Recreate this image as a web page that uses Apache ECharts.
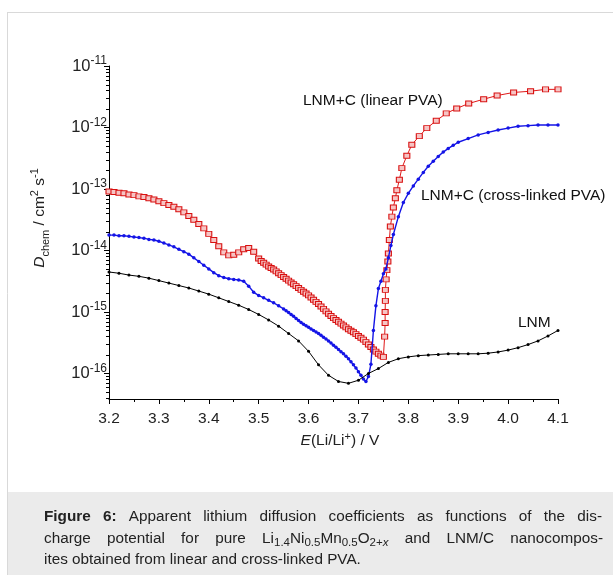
<!DOCTYPE html>
<html><head><meta charset="utf-8">
<script src="https://cdn.jsdelivr.net/npm/echarts@6/dist/echarts.min.js"></script>
<style>html,body{margin:0;padding:0;background:#fff}#c{width:613px;height:575px}</style>
</head><body><div id="c"></div>
<script>
// ---- data (D values stored as log10 of D in cm^2 s^-1) ----
const lnmE = [3.20,3.22,3.24,3.26,3.28,3.30,3.32,3.34,3.36,3.38,3.40,3.42,3.44,3.46,3.48,3.50,3.52,3.54,3.56,3.58,3.60,3.62,3.64,3.66,3.68,3.70,3.72,3.74,3.76,3.78,3.80,3.82,3.84,3.86,3.88,3.90,3.92,3.94,3.96,3.98,4.00,4.02,4.04,4.06,4.08,4.10];
const lnmLogD = [-14.35,-14.37,-14.40,-14.42,-14.45,-14.49,-14.53,-14.57,-14.61,-14.66,-14.71,-14.77,-14.83,-14.89,-14.96,-15.04,-15.13,-15.23,-15.35,-15.47,-15.64,-15.86,-16.03,-16.13,-16.16,-16.11,-16.00,-15.92,-15.82,-15.76,-15.73,-15.71,-15.70,-15.69,-15.68,-15.68,-15.68,-15.68,-15.67,-15.65,-15.62,-15.58,-15.53,-15.47,-15.39,-15.30];

const crossE = [3.20,3.21,3.22,3.23,3.24,3.25,3.26,3.27,3.28,3.29,3.30,3.31,3.32,3.33,3.34,3.35,3.36,3.37,3.38,3.39,3.40,3.41,3.42,3.43,3.44,3.45,3.46,3.47,3.48,3.49,3.50,3.51,3.52,3.53,3.54,
  3.550,3.555,3.560,3.565,3.570,3.575,3.580,3.585,3.590,3.595,3.600,3.605,3.610,3.615,3.620,3.625,3.630,3.635,3.640,3.645,3.650,3.655,3.660,3.665,3.670,3.675,3.680,3.685,3.690,3.695,3.700,3.705,3.710,
  3.715,3.72,3.725,3.73,3.735,3.74,3.745,3.75,3.755,3.76,3.765,3.77,3.78,3.79,3.80,3.81,3.82,3.83,3.84,3.85,3.86,3.87,3.88,3.89,3.90,3.92,3.94,3.96,3.98,4.00,4.02,4.04,4.06,4.08,4.10];
const crossLogD = [-13.75,-13.75,-13.76,-13.76,-13.77,-13.78,-13.79,-13.80,-13.82,-13.83,-13.85,-13.88,-13.91,-13.94,-13.98,-14.02,-14.06,-14.12,-14.18,-14.24,-14.30,-14.36,-14.41,-14.44,-14.46,-14.47,-14.48,-14.50,-14.58,-14.68,-14.73,-14.77,-14.81,-14.85,-14.90,
  -14.95,-14.98,-15.01,-15.04,-15.07,-15.105,-15.14,-15.17,-15.20,-15.225,-15.25,-15.275,-15.30,-15.325,-15.35,-15.38,-15.41,-15.44,-15.47,-15.505,-15.54,-15.575,-15.61,-15.645,-15.68,-15.72,-15.76,-15.81,-15.86,-15.91,-15.97,-16.03,-16.09,
  -16.13,-16.05,-15.85,-15.30,-14.90,-14.62,-14.50,-14.38,-14.30,-14.12,-13.92,-13.74,-13.45,-13.22,-13.07,-12.95,-12.84,-12.73,-12.63,-12.55,-12.47,-12.40,-12.34,-12.29,-12.24,-12.18,-12.12,-12.08,-12.04,-12.01,-11.98,-11.97,-11.96,-11.96,-11.96];

const linearE = [3.20,3.21,3.22,3.23,3.24,3.25,3.26,3.27,3.28,3.29,3.30,3.31,3.32,3.33,3.34,3.35,3.36,3.37,3.38,3.39,3.40,3.41,3.42,3.43,3.44,3.45,3.46,3.47,3.48,3.49,
  3.500,3.505,3.510,3.515,3.520,3.525,3.530,3.535,3.540,3.545,3.550,3.555,3.560,3.565,3.570,3.575,3.580,3.585,3.590,3.595,3.600,3.605,3.610,3.615,3.620,3.625,3.630,3.635,3.640,3.645,3.650,3.655,3.660,3.665,3.670,3.675,3.680,3.685,3.690,3.695,3.700,3.705,3.710,3.715,3.720,3.725,3.730,3.735,3.740,3.745,3.750,
  3.7525,3.7535,3.7535,3.754,3.754,3.7555,3.757,3.759,3.760,3.762,3.764,3.767,3.770,3.774,3.777,3.782,3.787,3.797,3.807,3.822,3.837,3.856,3.876,3.897,3.921,3.951,3.978,4.011,4.045,4.075,4.10];
const linearLogD = [-13.04,-13.05,-13.06,-13.07,-13.09,-13.10,-13.12,-13.13,-13.15,-13.17,-13.20,-13.23,-13.26,-13.29,-13.33,-13.38,-13.44,-13.50,-13.57,-13.64,-13.73,-13.83,-13.93,-14.03,-14.08,-14.07,-14.03,-13.98,-13.96,-14.02,
  -14.13,-14.17,-14.20,-14.23,-14.26,-14.285,-14.31,-14.34,-14.37,-14.40,-14.43,-14.46,-14.49,-14.52,-14.55,-14.58,-14.61,-14.64,-14.67,-14.70,-14.73,-14.765,-14.80,-14.835,-14.87,-14.91,-14.95,-14.99,-15.03,-15.065,-15.10,-15.13,-15.16,-15.19,-15.22,-15.25,-15.28,-15.305,-15.33,-15.36,-15.39,-15.42,-15.45,-15.49,-15.53,-15.57,-15.61,-15.645,-15.68,-15.71,-15.73,
  -15.40,-15.18,-15.00,-14.82,-14.64,-14.47,-14.32,-14.18,-14.05,-13.83,-13.61,-13.45,-13.30,-13.15,-13.02,-12.85,-12.66,-12.46,-12.28,-12.14,-12.01,-11.89,-11.77,-11.69,-11.61,-11.54,-11.48,-11.43,-11.41,-11.38,-11.38];

const xTickLabels = ['3.2','3.3','3.4','3.5','3.6','3.7','3.8','3.9','4.0','4.1'];
const yDecades = [-16,-15,-14,-13,-12,-11];
const minorMultipliers = [2,3,4,5,6,7,8,9];

// ---- chart ----
const FONT = "'Liberation Sans', Arial, sans-serif";
const CAP = 15.3, CAPSUB = 11.5;
const pairs = (xs, ys) => xs.map((x, i) => [x, ys[i]]);
const Y_MIN = -16.415, Y_MAX = -11;
const minorTickData = [];
[-17].concat(yDecades).forEach(d => minorMultipliers.forEach(m => {
  const v = d + Math.log10(m);
  if (v > Y_MIN && v < Y_MAX) minorTickData.push([3.2, v]);
}));

// caption text with justified lines
const ctx = document.createElement('canvas').getContext('2d');
const styles = {
  n: {fontSize: CAP, fontFamily: FONT, fill: '#222', lineHeight: 20},
  b: {fontSize: CAP, fontWeight: 'bold', fontFamily: FONT, fill: '#222', lineHeight: 20},
  s: {fontSize: CAPSUB, fontFamily: FONT, fill: '#222', lineHeight: 12, verticalAlign: 'bottom'},
  si: {fontSize: CAPSUB, fontStyle: 'italic', fontFamily: FONT, fill: '#222', lineHeight: 12, verticalAlign: 'bottom'}
};
function segWidth(seg) {
  const st = styles[seg[0]];
  ctx.font = (st.fontStyle || 'normal') + ' ' + (st.fontWeight || 'normal') + ' ' + st.fontSize + 'px ' + FONT;
  return ctx.measureText(seg[1]).width;
}
function justified(words, x, y, width) {
  const ws = words.map(w => w.reduce((a, s) => a + segWidth(s), 0));
  const total = ws.reduce((a, b) => a + b, 0);
  const gap = (width - total) / (words.length - 1);
  const els = [];
  let cx = x;
  words.forEach((w, i) => {
    els.push({type: 'text', x: cx, y: y, silent: true, style: {
      text: w.map(s => '{' + s[0] + '|' + s[1] + '}').join(''), verticalAlign: 'middle', rich: styles}});
    cx += ws[i] + gap;
  });
  return els;
}
const line1 = [[['b','Figure']],[['b','6:']],[['n','Apparent']],[['n','lithium']],[['n','diffusion']],[['n','coefficients']],[['n','as']],[['n','functions']],[['n','of']],[['n','the']],[['n','dis-']]];
const line2 = [[['n','charge']],[['n','potential']],[['n','for']],[['n','pure']],
  [['n','Li'],['s','1.4'],['n','Ni'],['s','0.5'],['n','Mn'],['s','0.5'],['n','O'],['s','2+'],['si','x']],
  [['n','and']],[['n','LNM/C']],[['n','nanocompos-']]];

const chart = echarts.init(document.getElementById('c'), null, {renderer: 'canvas'});
chart.setOption({
  animation: false,
  backgroundColor: '#fff',
  grid: {left: 109, right: 55, top: 66, bottom: 176},
  xAxis: {
    type: 'value', min: 3.2, max: 4.1, interval: 0.1,
    axisLine: {lineStyle: {color: '#000', width: 1}},
    axisTick: {length: 5, lineStyle: {color: '#000'}},
    minorTick: {show: true, splitNumber: 2, length: 3, lineStyle: {color: '#000'}},
    splitLine: {show: false},
    axisLabel: {
      formatter: v => { const i = Math.round((v - 3.2) / 0.1); return xTickLabels[i] || ''; },
      fontSize: 15.5, color: '#222', margin: 12, fontFamily: FONT
    }
  },
  yAxis: {
    type: 'value', min: Y_MIN, max: Y_MAX,
    axisLine: {show: true, lineStyle: {color: '#000', width: 1}},
    axisTick: {length: 5, lineStyle: {color: '#000'}, customValues: yDecades},
    splitLine: {show: false},
    axisLabel: {
      margin: 2,
      customValues: yDecades,
      formatter: v => '{b|10}{s|' + Math.round(v) + '}',
      rich: {
        b: {fontSize: 16.5, lineHeight: 22, color: '#222', fontFamily: FONT},
        s: {fontSize: 12, lineHeight: 12, verticalAlign: 'top', color: '#222', fontFamily: FONT}
      }
    }
  },
  series: [
    {
      name: 'LNM+C (linear PVA)', type: 'line', data: pairs(linearE, linearLogD),
      lineStyle: {color: '#e01818', width: 1},
      symbol: 'rect', symbolSize: [6, 5],
      itemStyle: {color: '#f6c4c4', borderColor: '#d81010', borderWidth: 1},
      z: 2
    },
    {
      name: 'LNM+C (cross-linked PVA)', type: 'line', data: pairs(crossE, crossLogD),
      lineStyle: {color: '#1414e6', width: 1.4},
      symbol: 'circle', symbolSize: 3.5,
      itemStyle: {color: '#1414e6'},
      z: 3
    },
    {
      name: 'LNM', type: 'line', data: pairs(lnmE, lnmLogD),
      lineStyle: {color: '#000', width: 1},
      symbol: 'circle', symbolSize: 3,
      itemStyle: {color: '#000'},
      z: 4
    },
    {
      type: 'custom', silent: true, clip: false, data: minorTickData,
      renderItem: (params, api) => {
        const p = api.coord([api.value(0), api.value(1)]);
        const y = Math.round(p[1]) + 0.5;
        return {type: 'line', shape: {x1: p[0] - 3, y1: y, x2: p[0], y2: y}, style: {stroke: '#000', lineWidth: 1}};
      }
    }
  ],
  graphic: [
    {type: 'line', shape: {x1: 7, y1: 12.5, x2: 613, y2: 12.5}, style: {stroke: '#d9d9d9', lineWidth: 1}, silent: true},
    {type: 'line', shape: {x1: 7.5, y1: 12, x2: 7.5, y2: 575}, style: {stroke: '#d9d9d9', lineWidth: 1}, silent: true},
    {type: 'rect', shape: {x: 8, y: 492, width: 605, height: 83}, style: {fill: '#ebebeb'}, silent: true},
    {type: 'text', x: 303, y: 101, style: {text: 'LNM+C (linear PVA)', font: "15.5px " + FONT, fill: '#111', verticalAlign: 'middle'}},
    {type: 'text', x: 421, y: 196, style: {text: 'LNM+C (cross-linked PVA)', font: "15.5px " + FONT, fill: '#111', verticalAlign: 'middle'}},
    {type: 'text', x: 518, y: 323, style: {text: 'LNM', font: "15.5px " + FONT, fill: '#111', verticalAlign: 'middle'}},
    {type: 'text', x: 340, y: 441, style: {
      text: '{i|E}{n|(Li/Li}{p|+}{n|) / V}', align: 'center', verticalAlign: 'middle',
      rich: {
        i: {fontSize: 15.5, fontStyle: 'italic', fontFamily: FONT, fill: '#222', lineHeight: 20},
        n: {fontSize: 15.5, fontFamily: FONT, fill: '#222', lineHeight: 20},
        p: {fontSize: 11, fontFamily: FONT, fill: '#222', lineHeight: 12, verticalAlign: 'top'}
      }}},
    {type: 'text', x: 40, y: 218, rotation: Math.PI / 2, style: {
      text: '{i|D}{b|chem}{n| / cm}{p|2}{n| s}{p|-1}', align: 'center', verticalAlign: 'middle',
      rich: {
        i: {fontSize: 15.5, fontStyle: 'italic', fontFamily: FONT, fill: '#222', lineHeight: 22},
        n: {fontSize: 15.5, fontFamily: FONT, fill: '#222', lineHeight: 22},
        b: {fontSize: 11, fontFamily: FONT, fill: '#222', lineHeight: 12, verticalAlign: 'bottom'},
        p: {fontSize: 11, fontFamily: FONT, fill: '#222', lineHeight: 12, verticalAlign: 'top'}
      }}}
  ].concat(justified(line1, 44, 517, 558), justified(line2, 44, 539, 559), [
    {type: 'text', x: 44, y: 560, style: {
      text: 'ites obtained from linear and cross-linked PVA.', verticalAlign: 'middle',
      font: CAP + "px " + FONT, fill: '#222'}}
  ])
});
</script>
</body></html>
